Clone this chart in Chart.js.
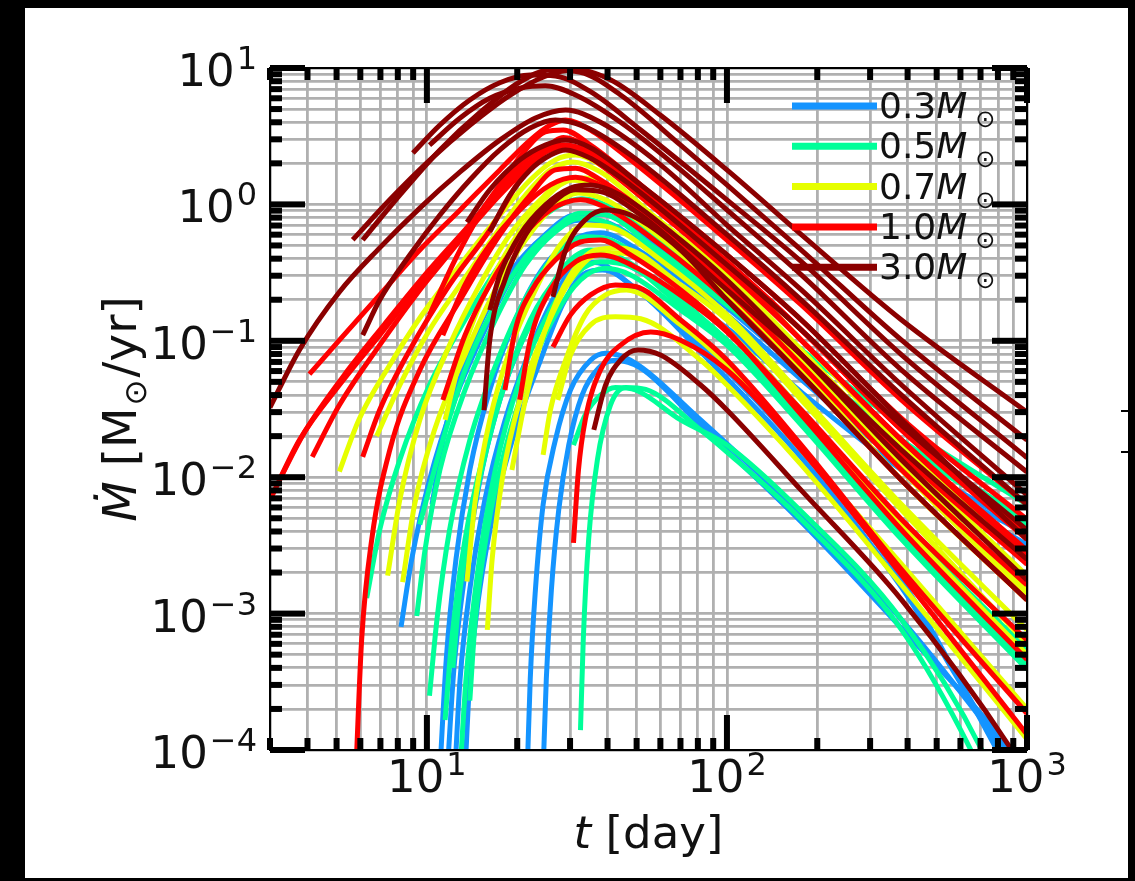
<!DOCTYPE html>
<html>
<head>
<meta charset="utf-8">
<script src="https://cdn.jsdelivr.net/npm/chart.js@4/dist/chart.umd.min.js"></script>
<style>
  html, body { margin: 0; padding: 0; background: #000; }
  canvas { display: block; }
</style>
</head>
<body>
<canvas id="mdotChart" width="1135" height="881"></canvas>
<script>
// Fallback-rate tracks: each track is a list of [t (day), Mdot (Msun/yr)]
const massLabels = ['0.3', '0.5', '0.7', '1.0', '3.0'];

const tracks03 = [
  [[8.2,8e-4],[8.9,2.5e-3],[10.2,9.5e-3],[12.4,0.037],[15.6,0.12],[19.7,0.32],[24.8,0.6],[31.3,0.84],[37.9,0.85],[51.6,0.6],[100,0.2],[177,0.07],[382,0.0172],[1000,0.0047]],
  [[11.05,7e-5],[11.6,4.6e-4],[12.5,2.5e-3],[13.9,0.0113],[16.2,0.0436],[19.7,0.142],[24.8,0.36],[31.3,0.56],[37.9,0.62],[51.6,0.45],[100,0.155],[177,0.052],[382,0.0128],[1000,0.0038]],
  [[11.7,7e-5],[12.3,3.9e-4],[13.3,1.76e-3],[14.8,8e-3],[17.1,0.031],[20.8,0.101],[25.8,0.236],[31.3,0.38],[37.3,0.43],[51.6,0.32],[100,0.124],[177,0.042],[382,0.0113],[1000,0.0032]],
  [[12.4,7e-5],[12.9,3.3e-4],[13.9,1.5e-3],[15.6,6.8e-3],[18.2,0.026],[22.1,0.086],[26.8,0.217],[31.6,0.36],[36.3,0.375],[47.7,0.257],[81.7,0.093],[177,0.0158],[382,1.76e-3],[795,1e-4],[900,6e-5]],
  [[13.4,7e-5],[13.9,3.3e-4],[15,1.5e-3],[16.9,6.3e-3],[19.7,0.022],[23.9,0.072],[28.3,0.183],[32.9,0.304],[38.5,0.33],[51.6,0.225],[81.7,0.083],[177,0.0139],[382,1.55e-3],[825,1e-4],[930,7e-5]],
  [[21.6,7e-5],[22.1,3.3e-4],[23,1.5e-3],[24.4,6.3e-3],[26.8,0.0187],[30.1,0.0436],[35.1,0.072],[39.4,0.081],[47.7,0.072],[81.7,0.0263],[177,5.3e-3],[382,9e-4],[845,1e-4],[950,7e-5]],
  [[24.4,7e-5],[25,3.3e-4],[26,1.5e-3],[27.5,5.75e-3],[29.7,0.0172],[32.9,0.04],[37.3,0.063],[42.5,0.072],[51.6,0.063],[81.7,0.024],[177,4.7e-3],[382,7.8e-4],[880,1e-4],[980,7e-5]],
  [[10.4,6.3e-3],[11.5,0.0222],[13.4,0.072],[16.2,0.183],[20.4,0.39],[25.8,0.63],[32.5,0.77],[39.4,0.74],[55.7,0.463],[100,0.175],[177,0.06],[382,0.0146],[1000,0.0041]]
];

const tracks05 = [
  [[6.3,1.3e-3],[6.96,4.1e-3],[8.12,0.0134],[10.2,0.0474],[13.4,0.142],[17.5,0.36],[22.1,0.67],[27.8,0.99],[32.9,1.1],[39.4,0.99],[55.7,0.6],[100,0.236],[177,0.086],[382,0.0241],[1000,0.0063]],
  [[9.25,9.6e-4],[9.85,2.9e-3],[11.05,0.0113],[13.4,0.0436],[16.9,0.142],[21.3,0.36],[26.8,0.63],[32.5,0.79],[39.4,0.74],[55.7,0.463],[100,0.183],[177,0.0665],[382,0.0172],[1000,0.0045]],
  [[10.2,2.5e-4],[10.8,9e-4],[11.9,4.1e-3],[13.9,0.0187],[17.5,0.079],[22.1,0.236],[27.8,0.463],[33.7,0.58],[40.9,0.55],[60.1,0.304],[100,0.12],[177,0.031],[382,4.5e-3],[1000,5.4e-4]],
  [[11.5,1.66e-4],[12.1,6.4e-4],[13.4,3.5e-3],[15.6,0.0158],[18.9,0.061],[23.9,0.183],[29,0.36],[35.1,0.463],[42.5,0.426],[60.1,0.257],[100,0.101],[177,0.0263],[382,3.8e-3],[1000,4.2e-4]],
  [[13.9,2.3e-4],[14.5,9e-4],[15.9,4.1e-3],[18.2,0.0158],[22.1,0.061],[26.8,0.155],[32.5,0.279],[39.4,0.34],[47.7,0.304],[70.1,0.168],[100,0.093],[177,0.0241],[382,3.5e-3],[1000,3.9e-4]],
  [[12.9,7e-5],[13.5,3.3e-4],[14.8,2.1e-3],[16.9,0.0113],[20.4,0.0516],[25.8,0.168],[32,0.32],[37.9,0.38],[47.7,0.35],[75.7,0.168],[100,0.101],[177,0.0263],[382,4.1e-3],[1000,4.6e-4]],
  [[32.5,1.4e-4],[33.2,6.4e-4],[34.6,3.5e-3],[37,0.0134],[40.9,0.0338],[46,0.0455],[53.6,0.044],[81.7,0.0222],[100,0.0153],[177,4.9e-3],[382,7.6e-4],[650,1e-4],[720,6e-5]],
  [[30.8,0.0172],[33.7,0.0286],[37.9,0.04],[42.5,0.0455],[49.6,0.0436],[70.1,0.0263],[100,0.0172],[177,5.6e-3],[382,9e-4],[707,1e-4],[780,6e-5]],
  [[12.2,4e-4],[12.9,1.5e-3],[14.5,6.8e-3],[17.5,0.0368],[22.1,0.142],[27.8,0.304],[35.1,0.426],[42.5,0.41],[70.1,0.183],[100,0.101],[177,0.0286],[382,4.5e-3],[1000,5.4e-4]],
  [[9.47,4.5e-3],[11.05,0.0158],[13.4,0.061],[16.9,0.183],[21.3,0.41],[26.8,0.67],[32.5,0.86],[39.4,0.84],[55.7,0.504],[100,0.2],[177,0.072],[382,0.0187],[1000,4.9e-3]]
];

const tracks07 = [
  [[5.11,0.011],[5.93,0.0263],[7.52,0.0665],[9.47,0.147],[12.9,0.36],[17.5,0.836],[22.1,1.51],[26.8,2.12],[31.3,2.3],[37.9,1.95],[55.7,0.99],[100,0.36],[177,0.101],[382,0.0172],[1000,2.5e-3]],
  [[6.8,0.02],[8.12,0.0474],[10.2,0.12],[12.9,0.257],[16.9,0.6],[21.3,1.17],[25.8,1.79],[30.6,2.05],[37.9,1.73],[55.7,0.86],[100,0.304],[177,0.0857],[382,0.0146],[1000,1.9e-3]],
  [[7.4,1.9e-3],[8.12,6.8e-3],[9.47,0.0263],[11.9,0.093],[15,0.257],[18.9,0.6],[23.9,1.08],[29,1.51],[35.1,1.46],[51.6,0.836],[100,0.257],[177,0.072],[382,0.0123],[1000,1.5e-3]],
  [[8.3,1.7e-3],[9.1,6.3e-3],[10.6,0.0222],[13.4,0.079],[16.9,0.236],[21.3,0.548],[26.8,0.99],[31.9,1.21],[39.4,1.08],[55.7,0.65],[100,0.217],[177,0.061],[382,9.5e-3],[1000,1.26e-3]],
  [[13.6,1.72e-3],[14.5,6.8e-3],[16.2,0.0263],[18.9,0.0857],[23,0.236],[27.8,0.504],[33.7,0.706],[40.9,0.68],[60.1,0.391],[100,0.155],[177,0.04],[382,6.3e-3],[1000,7.6e-4]],
  [[15.9,7.6e-4],[16.5,2.5e-3],[17.8,9.5e-3],[20.4,0.0368],[24.8,0.12],[30.1,0.279],[36.6,0.426],[44.2,0.44],[70.1,0.236],[100,0.12],[177,0.031],[382,4.5e-3],[1000,5e-4]],
  [[24.4,0.0146],[25.8,0.0311],[29,0.0723],[33.7,0.155],[39.4,0.217],[46.2,0.236],[70.1,0.131],[100,0.0665],[177,0.0158],[382,2.3e-3],[1000,2e-4]],
  [[27.3,0.0368],[30.1,0.0787],[35.1,0.131],[42.5,0.15],[51.6,0.145],[81.7,0.0723],[100,0.0474],[177,0.0123],[382,1.62e-3],[1000,1.2e-4]],
  [[11.5,0.0263],[12.9,0.0723],[15,0.183],[18.2,0.426],[23,0.91],[27.8,1.39],[33.7,1.56],[42.5,1.24],[70.1,0.504],[100,0.257],[177,0.0723],[382,0.0113],[1000,1.37e-3]],
  [[19.2,0.0113],[21.3,0.0368],[24.8,0.12],[30.1,0.304],[36.6,0.463],[44.2,0.48],[70.1,0.257],[100,0.142],[177,0.0368],[382,5.75e-3],[1000,6e-4]]
];

const tracks10 = [
  [[3,6.8e-3],[3.76,0.0187],[5.11,0.0474],[6.96,0.11],[9.47,0.257],[12.9,0.548],[17.5,1.17],[22.1,1.95],[25.8,2.51],[30.1,2.6],[37.9,1.95],[55.7,0.99],[100,0.331],[177,0.101],[382,0.0187],[1000,2.9e-3]],
  [[3.22,9.5e-3],[3.91,0.0214],[5.3,0.056],[7.2,0.131],[9.85,0.304],[13.4,0.649],[18.2,1.39],[23,2.2],[27.8,2.72],[33.7,2.51],[44.2,1.64],[70.1,0.706],[100,0.38],[177,0.12],[382,0.0222],[1000,3.8e-3]],
  [[4.06,0.057],[5.11,0.101],[6.96,0.217],[9.47,0.463],[12.9,0.91],[17.5,1.79],[22.1,2.96],[25.8,3.82],[29,4.16],[35.1,3.51],[47.7,2.12],[100,0.548],[177,0.183],[382,0.0368],[1000,6.3e-3]],
  [[4.15,0.0141],[5.11,0.0338],[6.96,0.093],[9.47,0.236],[12.9,0.548],[17.5,1.39],[21.3,2.51],[24.8,3.4],[28.5,3.51],[35.1,2.72],[51.6,1.39],[100,0.426],[177,0.142],[382,0.027],[1000,4.9e-3]],
  [[6.11,0.0141],[6.96,0.0311],[8.77,0.0857],[11.9,0.257],[16.2,0.649],[20.4,1.51],[24.8,2.51],[28.5,3.1],[33.7,2.72],[47.7,1.51],[100,0.38],[177,0.12],[382,0.0222],[1000,3.5e-3]],
  [[5.8,7e-5],[6.06,6.4e-4],[6.55,3.5e-3],[7.52,0.0158],[9.47,0.061],[12.9,0.199],[17.5,0.597],[22.1,1.17],[26.8,1.79],[31.3,1.84],[37.9,1.51],[60.1,0.706],[100,0.257],[177,0.079],[382,0.0146],[1000,2.3e-3]],
  [[10.2,0.155],[12.4,0.391],[15,0.836],[18.9,1.64],[23.9,2.51],[29,2.72],[36.6,2.18],[55.7,1.08],[100,0.36],[177,0.101],[382,0.0187],[1000,2.7e-3]],
  [[11.3,0.11],[13.4,0.257],[16.2,0.504],[20.4,0.91],[25.8,1.39],[31.3,1.58],[39.4,1.32],[60.1,0.649],[100,0.236],[177,0.0665],[382,0.0113],[1000,1.62e-3]],
  [[11.3,0.0368],[13.4,0.11],[16.2,0.257],[20.4,0.548],[25.8,0.91],[32.5,1.08],[40.9,0.91],[60.1,0.504],[100,0.2],[177,0.0561],[382,9.5e-3],[1000,1.26e-3]],
  [[18.2,0.0436],[19.7,0.12],[22.4,0.236],[26.8,0.391],[32.5,0.53],[37.9,0.548],[47.7,0.426],[70.1,0.236],[100,0.12],[177,0.0286],[382,4.1e-3],[1000,4.6e-4]],
  [[26.3,0.09],[30.1,0.155],[35.1,0.217],[42.5,0.257],[49.6,0.25],[70.1,0.142],[100,0.0723],[177,0.0172],[382,2.1e-3],[1000,1.85e-4]],
  [[30.8,3.3e-3],[32,0.0113],[33.7,0.0263],[37.9,0.0611],[44.2,0.093],[55.7,0.116],[70.1,0.101],[100,0.0611],[177,0.0158],[382,1.92e-3],[1000,1.3e-4]],
  [[20.4,0.037],[22.1,0.101],[25.8,0.236],[31.3,0.38],[37.9,0.426],[51.6,0.331],[81.7,0.168],[100,0.116],[177,0.0311],[382,4.9e-3],[1000,6.4e-4]]
];

const tracks30 = [
  [[5.66,0.55],[7.52,1.08],[10.2,2.1],[13.9,3.8],[18.9,6.3],[24.8,8.7],[31.3,9.7],[40.9,8.2],[60.1,4.5],[100,1.79],[177,0.6],[382,0.142],[1000,0.03]],
  [[6.11,0.548],[8.12,1.17],[11.05,2.51],[15,4.7],[20.4,7.9],[25.8,9.67],[32.5,9.3],[44.2,6.34],[70.1,2.72],[100,1.39],[177,0.463],[382,0.101],[1000,0.0187]],
  [[8.98,2.38],[11.05,3.82],[13.9,5.83],[17.5,7.8],[22.1,8.89],[26.8,8.74],[35.1,6.7],[51.6,3.51],[100,1.08],[177,0.38],[382,0.079],[1000,0.0139]],
  [[10.2,2.72],[12.9,4.3],[16.2,6],[20.4,7.1],[24.8,7.4],[31.3,6.34],[44.2,4],[70.1,1.79],[100,0.91],[177,0.304],[382,0.061],[1000,0.0109]],
  [[3,0.0325],[3.76,0.0857],[5.11,0.228],[6.96,0.48],[9.47,0.94],[12.9,1.73],[17.5,2.96],[23,4.3],[29,4.92],[37.9,4],[60.1,1.95],[100,0.706],[177,0.236],[382,0.0474],[1000,7.4e-3]],
  [[6.11,0.11],[6.96,0.199],[8.77,0.426],[11.05,0.836],[13.9,1.51],[17.5,2.51],[22.1,3.63],[26.8,4.16],[33.7,3.7],[47.7,2.3],[100,0.6],[177,0.199],[382,0.04],[1000,6.3e-3]],
  [[16.2,0.63],[18.9,1.17],[22.1,1.79],[25.8,2.3],[29,2.51],[35.1,2.18],[47.7,1.39],[100,0.36],[177,0.12],[382,0.024],[1000,4.1e-3]],
  [[15.5,0.031],[16.2,0.101],[18.2,0.279],[21.3,0.597],[25.8,0.99],[31.3,1.28],[37.9,1.24],[51.6,0.836],[100,0.236],[177,0.079],[382,0.0158],[1000,2.5e-3]],
  [[26.3,0.21],[29,0.463],[33.7,0.77],[39.4,0.91],[47.7,0.836],[70.1,0.463],[100,0.2],[177,0.056],[382,9.5e-3],[1000,1.26e-3]],
  [[16.2,0.168],[17.5,0.304],[20.4,0.597],[24.8,0.99],[30.1,1.32],[35.1,1.39],[44.2,1.17],[70.1,0.548],[100,0.279],[177,0.079],[382,0.0134],[1000,1.76e-3]],
  [[36,0.0222],[39.4,0.0474],[44.2,0.0723],[50.3,0.0857],[60.1,0.0787],[81.7,0.0474],[100,0.0311],[177,8e-3],[382,1.26e-3],[890,1e-4],[1000,6.5e-5]],
  [[13.6,0.74],[16.2,1.28],[20.4,2.12],[24.8,2.72],[29,2.96],[35.1,2.6],[51.6,1.39],[100,0.426],[177,0.142],[382,0.0263],[1000,3.5e-3]]
];

// labelled decades on each axis
const xDecades = [10, 100, 1000];
const yDecades = [1e-4, 1e-3, 1e-2, 1e-1, 1, 10];
const xRange = [3, 1000];
const yRange = [1e-4, 10];

const massColors = ['#1494ff', '#00ff99', '#e6ff00', '#ff0000', '#8b0000'];
const FONT = 'DejaVu Sans';

// 1..9 x 10^n grid values between the axis limits
function logGrid(lo, hi) {
  const vals = [];
  for (let e = Math.floor(Math.log10(lo)); e <= Math.ceil(Math.log10(hi)); e++) {
    for (let k = 1; k <= 9; k++) {
      const v = Number((k * Math.pow(10, e)).toPrecision(3));
      if (v >= lo * 0.999 && v <= hi * 1.001) vals.push(v);
    }
  }
  return vals;
}
const gridX = logGrid(xRange[0], xRange[1]);
const gridY = logGrid(yRange[0], yRange[1]);
const isDecade = v => Math.abs(Math.log10(v) - Math.round(Math.log10(v))) < 1e-6;

const groups = [tracks03, tracks05, tracks07, tracks10, tracks30];
const datasets = [];
groups.forEach((tracks, g) => {
  tracks.forEach(track => {
    datasets.push({
      label: massLabels[g],
      data: track.map(([t, m]) => ({ x: t, y: m })),
      borderColor: massColors[g],
      borderWidth: 5,
      pointRadius: 0,
      fill: false,
      cubicInterpolationMode: 'monotone',
      borderJoinStyle: 'round',
      clip: 0,
      order: groups.length - 1 - g   // heavier stars drawn on top
    });
  });
});

// text pieces with their own font / vertical shift
function runsWidth(ctx, runs) {
  let w = 0;
  runs.forEach(r => { ctx.font = r.font; w += (r.pre || 0) + ctx.measureText(r.text).width; });
  return w;
}
function drawRuns(ctx, runs, x, y) {
  let cx = x;
  runs.forEach(r => {
    ctx.font = r.font;
    cx += r.pre || 0;
    ctx.fillText(r.text, cx, y + (r.dy || 0));
    cx += ctx.measureText(r.text).width;
  });
}
function powRuns(v) {
  const e = Math.round(Math.log10(v));
  const sup = e < 0 ? '\u2212' + (-e) : String(e);
  return [
    { text: '10', font: `45px ${FONT}` },
    { text: sup, font: `32px ${FONT}`, dy: -17, pre: 2 }
  ];
}

const background = {
  id: 'background',
  beforeDraw(chart) {
    const ctx = chart.ctx;
    ctx.save();
    ctx.fillStyle = '#000';
    ctx.fillRect(0, 0, chart.width, chart.height);
    ctx.fillStyle = '#fff';
    ctx.fillRect(25, 8, 1103, 870);
    ctx.restore();
  }
};

const axesDecor = {
  id: 'axesDecor',
  afterDraw(chart) {
    const ctx = chart.ctx;
    const { left, right, top, bottom } = chart.chartArea;
    const xs = chart.scales.x, ys = chart.scales.y;
    ctx.save();

    // frame
    ctx.strokeStyle = '#000';
    ctx.lineWidth = 2;
    ctx.strokeRect(left, top, right - left, bottom - top);

    // inward ticks on all four sides
    ctx.fillStyle = '#000';
    const tw = 6;
    gridX.forEach(v => {
      const len = isDecade(v) ? 35 : 12;
      const px = xs.getPixelForValue(v);
      ctx.fillRect(px - tw / 2, bottom - len, tw, len);
      ctx.fillRect(px - tw / 2, top, tw, len);
    });
    gridY.forEach(v => {
      const len = isDecade(v) ? 35 : 12;
      const py = ys.getPixelForValue(v);
      ctx.fillRect(left, py - tw / 2, len, tw);
      ctx.fillRect(right - len, py - tw / 2, len, tw);
    });

    // tick labels
    ctx.fillStyle = '#111';
    ctx.textBaseline = 'alphabetic';
    ctx.textAlign = 'left';
    xDecades.forEach(v => {
      const runs = powRuns(v);
      const w = runsWidth(ctx, runs);
      drawRuns(ctx, runs, xs.getPixelForValue(v) - w / 2, bottom + 42);
    });
    yDecades.forEach(v => {
      const runs = powRuns(v);
      const w = runsWidth(ctx, runs);
      drawRuns(ctx, runs, left - 13 - w, ys.getPixelForValue(v) + 18);
    });

    // axis titles
    const xTitle = [
      { text: 't', font: `italic 45px ${FONT}` },
      { text: ' [day]', font: `45px ${FONT}` }
    ];
    drawRuns(ctx, xTitle, (left + right) / 2 - runsWidth(ctx, xTitle) / 2, 848);

    const yTitle = [
      { text: '\u1E40', font: `italic 47px ${FONT}` },
      { text: ' [M', font: `47px ${FONT}` },
      { text: '\u2299', font: `31px ${FONT}`, dy: 10, pre: 2 },
      { text: '/yr]', font: `47px ${FONT}`, pre: 2 }
    ];
    ctx.translate(136, (top + bottom) / 2);
    ctx.rotate(-Math.PI / 2);
    drawRuns(ctx, yTitle, -runsWidth(ctx, yTitle) / 2, 0);
    ctx.setTransform(1, 0, 0, 1, 0, 0);

    // legend
    massLabels.forEach((lab, g) => {
      const ly = 106 + g * 40.3;
      ctx.strokeStyle = massColors[g];
      ctx.lineWidth = 7;
      ctx.beginPath();
      ctx.moveTo(792, ly);
      ctx.lineTo(877, ly);
      ctx.stroke();
      ctx.fillStyle = '#111';
      drawRuns(ctx, [
        { text: lab, font: `36px ${FONT}` },
        { text: 'M', font: `italic 36px ${FONT}` },
        { text: '\u2299', font: `24px ${FONT}`, dy: 9, pre: 8 }
      ], 879, ly + 12);
    });

    // small marks right of the panel
    ctx.fillStyle = '#000';
    ctx.fillRect(1121, 410, 9, 2);
    ctx.fillRect(1121, 451, 9, 2);
    ctx.restore();
  }
};

const ctx = document.getElementById('mdotChart').getContext('2d');
const mdotChart = new Chart(ctx, {
  type: 'line',
  data: { datasets },
  options: {
    responsive: false,
    animation: false,
    devicePixelRatio: 1,
    layout: { padding: { left: 270, right: 108, top: 68, bottom: 131 } },
    plugins: { legend: { display: false }, tooltip: { enabled: false } },
    scales: {
      x: {
        type: 'logarithmic',
        min: xRange[0],
        max: xRange[1],
        afterBuildTicks: axis => { axis.ticks = gridX.map(v => ({ value: v })); },
        ticks: { display: false },
        grid: { color: '#b0b0b0', lineWidth: 2.8, drawTicks: false },
        border: { display: false }
      },
      y: {
        type: 'logarithmic',
        min: yRange[0],
        max: yRange[1],
        afterBuildTicks: axis => { axis.ticks = gridY.map(v => ({ value: v })); },
        ticks: { display: false },
        grid: { color: '#b0b0b0', lineWidth: 2.8, drawTicks: false },
        border: { display: false }
      }
    }
  },
  plugins: [background, axesDecor]
});
</script>
</body>
</html>
